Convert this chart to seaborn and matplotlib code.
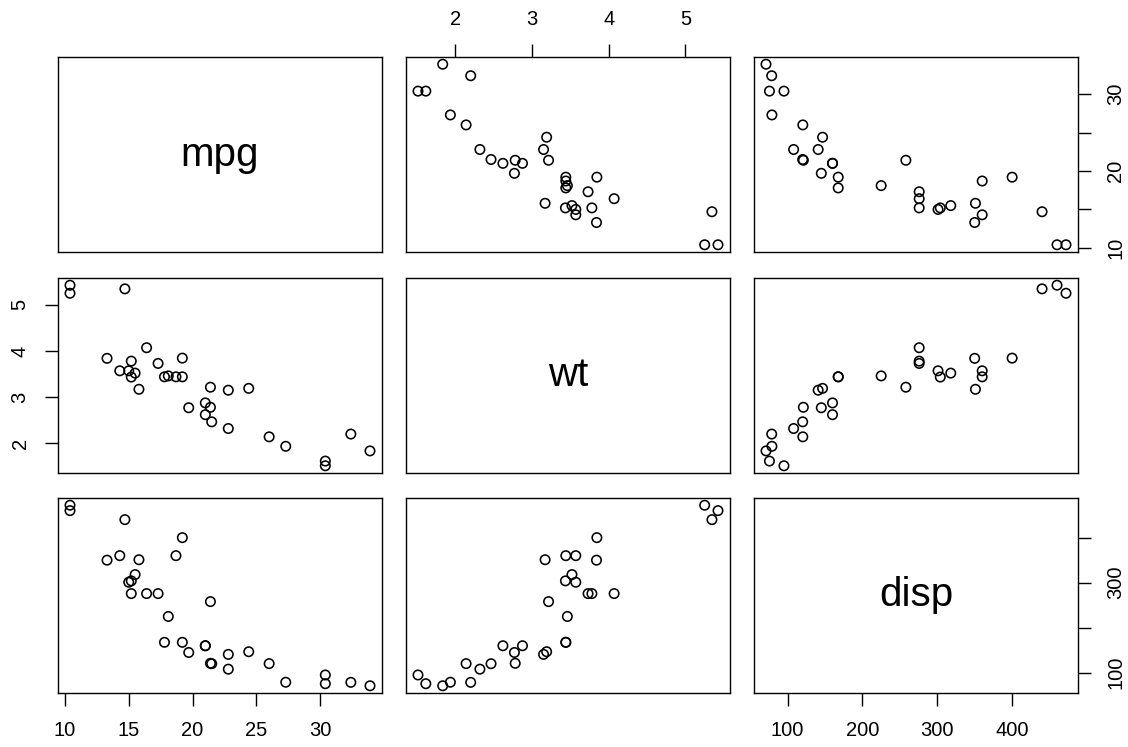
import numpy as np
import pandas as pd
import matplotlib
matplotlib.use("Agg")
import matplotlib.pyplot as plt
import seaborn as sns

mpg = [21.0, 21.0, 22.8, 21.4, 18.7, 18.1, 14.3, 24.4, 22.8, 19.2, 17.8, 16.4, 17.3, 15.2,
       10.4, 10.4, 14.7, 32.4, 30.4, 33.9, 21.5, 15.5, 15.2, 13.3, 19.2, 27.3, 26.0, 30.4,
       15.8, 19.7, 15.0, 21.4]
wt = [2.620, 2.875, 2.320, 3.215, 3.440, 3.460, 3.570, 3.190, 3.150, 3.440, 3.440, 4.070,
      3.730, 3.780, 5.250, 5.424, 5.345, 2.200, 1.615, 1.835, 2.465, 3.520, 3.435, 3.840,
      3.845, 1.935, 2.140, 1.513, 3.170, 2.770, 3.570, 2.780]
disp = [160.0, 160.0, 108.0, 258.0, 360.0, 225.0, 360.0, 146.7, 140.8, 167.6, 167.6, 275.8,
        275.8, 275.8, 472.0, 460.0, 440.0, 78.7, 75.7, 71.1, 120.1, 318.0, 304.0, 350.0,
        400.0, 79.0, 120.3, 95.1, 351.0, 145.0, 301.0, 121.0]

var_names = ["mpg", "wt", "disp"]
mpg_ticks = [10, 15, 20, 25, 30]
wt_ticks = [2, 3, 4, 5]
disp_ticks = [100, 200, 300, 400]

df = pd.DataFrame({"mpg": mpg, "wt": wt, "disp": disp})
ticks = {"mpg": mpg_ticks, "wt": wt_ticks, "disp": disp_ticks}
# labels shown on the side (y) axes when R drops overlapping ones
side_labels = {"mpg": ["10", "", "20", "", "30"], "wt": ["2", "3", "4", "5"],
               "disp": ["100", "", "300", ""]}

sns.set_style("white")
plt.rcParams["font.family"] = ["Liberation Sans", "DejaVu Sans"]
plt.rcParams["text.color"] = "black"
plt.rcParams["xtick.color"] = "black"
plt.rcParams["ytick.color"] = "black"
plt.rcParams["xtick.labelcolor"] = "black"
plt.rcParams["ytick.labelcolor"] = "black"

W, H = 1128, 747
fig = plt.figure(figsize=(W / 100, H / 100), dpi=100)

col_left = [58, 406, 754]
row_top = [57, 278, 498]
pw, ph = 324, 195

def lim(v):
    lo, hi = min(v), max(v)
    r = hi - lo
    return lo - 0.04 * r, hi + 0.04 * r

tick_kw = dict(length=9.5, width=1.0, color="black", labelcolor="black",
               labelsize=14.5, pad=11)

for i, yv in enumerate(var_names):
    for j, xv in enumerate(var_names):
        ax = fig.add_axes([col_left[j] / W, 1 - (row_top[i] + ph) / H, pw / W, ph / H])
        for s in ax.spines.values():
            s.set_visible(True)
            s.set_color("black")
            s.set_linewidth(1.0)
        ax.set_xlim(*lim(df[xv]))
        ax.set_ylim(*lim(df[yv]))
        if i == j:
            ax.text(0.5, 0.5, yv, transform=ax.transAxes, ha="center", va="center",
                    fontsize=29, color="black")
        else:
            sns.scatterplot(data=df, x=xv, y=yv, ax=ax, s=46, linewidth=1.15,
                            edgecolor="black", legend=False)
            ax.collections[-1].set_facecolor("none")
            ax.collections[-1].set_edgecolor("black")
        ax.set_xlabel("")
        ax.set_ylabel("")
        ax.set_xticks([])
        ax.set_yticks([])
        if i == 0 and j % 2 == 1:
            ax.set_xticks(ticks[xv])
            ax.xaxis.set_ticks_position("top")
            ax.tick_params(axis="x", direction="out", top=True, labeltop=True,
                           bottom=False, labelbottom=False, **tick_kw)
        if i == 2 and j % 2 == 0:
            ax.set_xticks(ticks[xv])
            ax.tick_params(axis="x", direction="out", bottom=True, labelbottom=True, **tick_kw)
        if j == 0 and i % 2 == 1:
            ax.set_yticks(ticks[yv])
            ax.set_yticklabels(side_labels[yv], rotation=90, va="center")
            ax.tick_params(axis="y", direction="out", left=True, labelleft=True, **tick_kw)
        if j == 2 and i % 2 == 0:
            ax.set_yticks(ticks[yv])
            ax.yaxis.set_ticks_position("right")
            ax.set_yticklabels(side_labels[yv], rotation=90, va="center")
            ax.tick_params(axis="y", direction="out", right=True, labelright=True,
                           left=False, labelleft=False, **tick_kw)

fig.savefig("out.png", dpi=100, facecolor="white")
